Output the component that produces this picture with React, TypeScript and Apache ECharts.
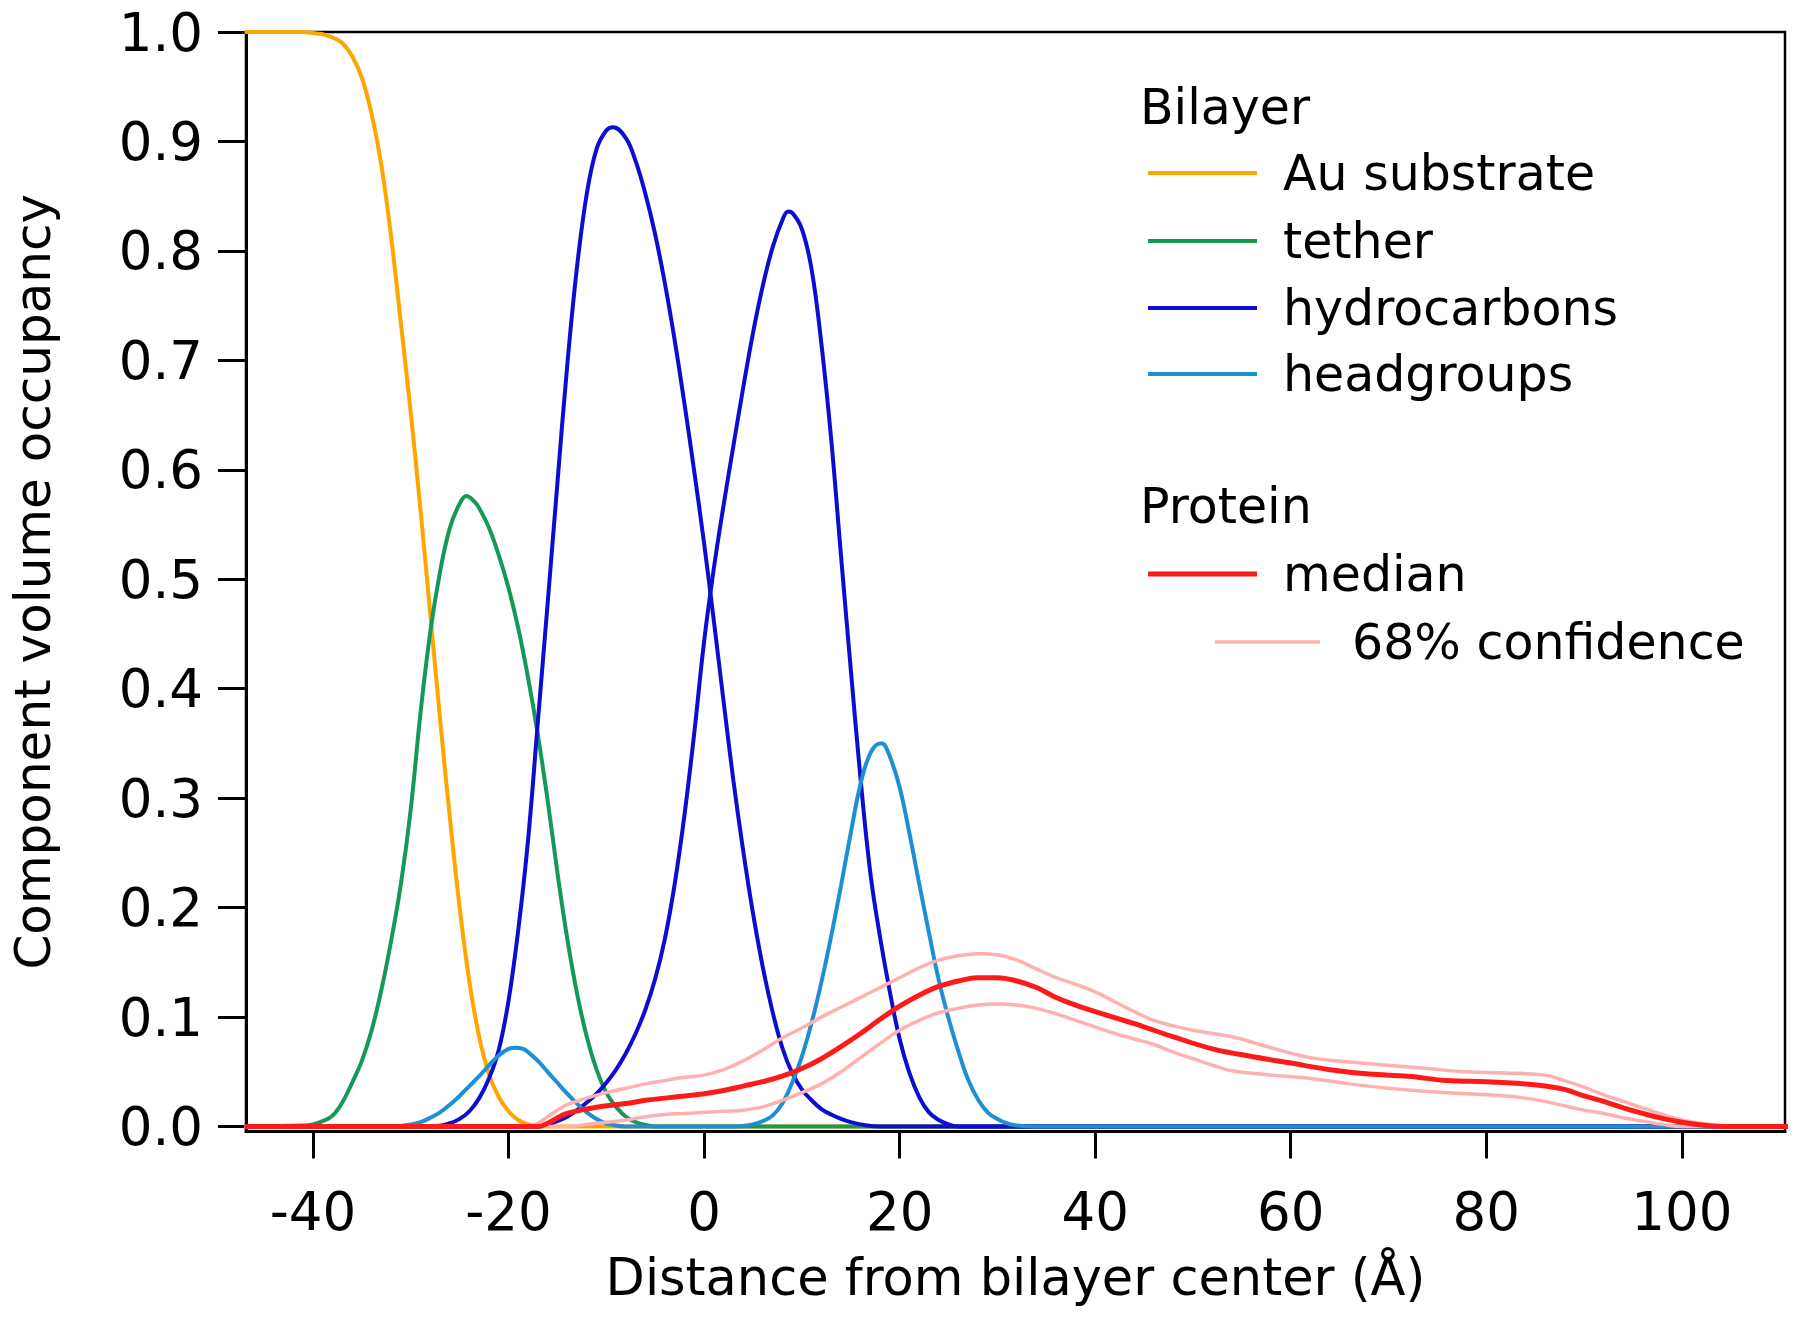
import React, { useEffect, useRef } from "react";
import * as echarts from "echarts";

// ---- axis ticks ----
const xTicks = [-40, -20, 0, 20, 40, 60, 80, 100];
const yTicks = [0, 0.1, 0.2, 0.3, 0.4, 0.5, 0.6, 0.7, 0.8, 0.9, 1.0];

// ---- Bilayer: Au substrate ----
const auX = [-47, -41, -40, -39, -38, -37, -36, -35, -34, -33, -32, -31, -30, -29, -28, -27, -26, -25, -24, -23, -22, -21, -20, -19, -18, -17, -15, 111];
const auY = [1, 1, 0.999, 0.998, 0.995, 0.99, 0.978, 0.958, 0.925, 0.878, 0.812, 0.733, 0.652, 0.563, 0.468, 0.372, 0.282, 0.2, 0.132, 0.082, 0.048, 0.027, 0.014, 0.006, 0.002, 0.0005, 0, 0];

// ---- Bilayer: tether ----
const tetherX = [-47, -41, -40, -39, -38, -37, -36, -35, -34, -33, -32, -31, -30, -29, -28, -27, -26, -25, -24.3, -23.5, -23, -22, -21, -20, -19, -18, -17, -16, -15, -14, -13, -12, -11, -10, -9, -8, -7, -6, -5, 111];
const tetherY = [0, 0.001, 0.002, 0.005, 0.01, 0.022, 0.04, 0.06, 0.088, 0.125, 0.17, 0.222, 0.29, 0.378, 0.452, 0.507, 0.547, 0.569, 0.576, 0.571, 0.565, 0.547, 0.522, 0.492, 0.455, 0.41, 0.358, 0.298, 0.232, 0.172, 0.122, 0.082, 0.052, 0.031, 0.018, 0.009, 0.004, 0.0015, 0, 0];

// ---- Bilayer: hydrocarbons (inner leaflet) ----
const hcInX = [-47, -28, -26, -25, -24, -23, -22, -21, -20, -19, -18, -17, -16, -15, -14, -13, -12, -11, -10, -9.3, -8, -7, -6, -5, -4, -3, -2, -1, 0, 1, 2, 3, 4, 5, 6, 7, 8, 9, 10, 11, 12, 13, 14, 15, 16, 18, 111];
const hcInY = [0, 0, 0.003, 0.007, 0.014, 0.026, 0.044, 0.07, 0.115, 0.18, 0.262, 0.37, 0.478, 0.588, 0.695, 0.785, 0.852, 0.893, 0.91, 0.913, 0.903, 0.882, 0.852, 0.815, 0.77, 0.718, 0.66, 0.598, 0.533, 0.462, 0.388, 0.316, 0.252, 0.195, 0.146, 0.105, 0.072, 0.049, 0.034, 0.024, 0.016, 0.011, 0.007, 0.004, 0.002, 0, 0];

// ---- Bilayer: hydrocarbons (outer leaflet) ----
const hcOutX = [-47, -17, -16, -15, -14, -13, -12, -11, -10, -9, -8, -7, -6, -5, -4, -3, -2, -1, 0, 1, 2, 3, 4, 5, 6, 7, 8, 8.6, 9, 10, 11, 12, 13, 14, 15, 16, 17, 18, 19, 20, 21, 22, 23, 24, 25, 26, 111];
const hcOutY = [0, 0, 0.002, 0.005, 0.009, 0.015, 0.022, 0.03, 0.04, 0.052, 0.067, 0.085, 0.107, 0.135, 0.172, 0.222, 0.285, 0.36, 0.443, 0.51, 0.568, 0.622, 0.675, 0.725, 0.768, 0.803, 0.828, 0.836, 0.835, 0.82, 0.783, 0.715, 0.628, 0.522, 0.418, 0.318, 0.232, 0.173, 0.123, 0.08, 0.049, 0.027, 0.013, 0.006, 0.002, 0, 0];

// ---- Bilayer: headgroups ----
const headX = [-47, -32, -30, -29, -28, -27, -26, -25, -24, -23, -22, -21, -20, -19.3, -18.5, -18, -17, -16, -15, -14, -13, -12, -11, -10, -9, -8, 3, 5, 6, 7, 8, 9, 10, 11, 12, 13, 14, 15, 16, 17, 18, 18.2, 19, 20, 21, 22, 23, 24, 25, 26, 27, 28, 29, 30, 31, 32, 34, 111];
const headY = [0, 0, 0.002, 0.004, 0.008, 0.013, 0.02, 0.028, 0.037, 0.046, 0.056, 0.065, 0.071, 0.072, 0.071, 0.068, 0.06, 0.05, 0.04, 0.03, 0.021, 0.013, 0.007, 0.003, 0.001, 0, 0, 0.002, 0.005, 0.01, 0.021, 0.04, 0.064, 0.095, 0.132, 0.174, 0.22, 0.268, 0.313, 0.341, 0.35, 0.35, 0.338, 0.31, 0.268, 0.222, 0.177, 0.134, 0.099, 0.069, 0.043, 0.025, 0.013, 0.007, 0.003, 0.001, 0, 0];

// ---- Protein: median ----
const medX = [-47, -17, -16, -15, -14, -12, -10, -8, -6, -4, -2, 0, 2, 4, 6, 8, 10, 12, 14, 16, 18, 20, 22, 24, 26, 28, 30, 32, 34, 36, 38, 40, 44, 48, 52, 56, 60, 64, 68, 72, 76, 80, 84, 86, 88, 90, 92, 94, 96, 98, 100, 102, 104, 111];
const medY = [0, 0, 0.003, 0.008, 0.012, 0.016, 0.019, 0.021, 0.024, 0.026, 0.028, 0.03, 0.033, 0.037, 0.041, 0.046, 0.053, 0.062, 0.073, 0.085, 0.098, 0.11, 0.12, 0.128, 0.133, 0.136, 0.136, 0.133, 0.127, 0.118, 0.111, 0.105, 0.094, 0.082, 0.071, 0.064, 0.058, 0.052, 0.048, 0.046, 0.042, 0.041, 0.039, 0.037, 0.034, 0.028, 0.023, 0.017, 0.012, 0.0075, 0.004, 0.0015, 0, 0];

// ---- Protein: 68% confidence, upper ----
const upX = [-47, -18, -17, -16, -15, -14, -12, -10, -8, -6, -4, -2, 0, 2, 4, 6, 8, 10, 12, 14, 16, 18, 20, 22, 24, 26, 28, 30, 32, 34, 36, 38, 40, 42, 44, 46, 48, 50, 54, 58, 62, 66, 70, 74, 78, 82, 86, 88, 90, 92, 94, 96, 98, 100, 102, 104, 106, 111];
const upY = [0, 0, 0.003, 0.009, 0.015, 0.02, 0.026, 0.031, 0.035, 0.039, 0.042, 0.045, 0.047, 0.052, 0.06, 0.07, 0.081, 0.09, 0.1, 0.109, 0.118, 0.127, 0.136, 0.145, 0.152, 0.156, 0.158, 0.157, 0.152, 0.144, 0.136, 0.13, 0.123, 0.114, 0.105, 0.097, 0.092, 0.088, 0.082, 0.072, 0.063, 0.059, 0.056, 0.053, 0.05, 0.049, 0.047, 0.042, 0.036, 0.029, 0.023, 0.017, 0.011, 0.006, 0.003, 0.001, 0, 0];

// ---- Protein: 68% confidence, lower ----
const loX = [-47, -14, -12, -10, -8, -6, -4, -2, 0, 2, 4, 6, 8, 10, 12, 14, 16, 18, 20, 22, 24, 26, 28, 30, 32, 34, 36, 38, 40, 42, 44, 46, 48, 50, 52, 54, 58, 62, 66, 70, 74, 78, 82, 84, 86, 88, 90, 92, 94, 96, 98, 100, 111];
const loY = [0, 0, 0.002, 0.004, 0.006, 0.009, 0.011, 0.012, 0.013, 0.014, 0.015, 0.018, 0.024, 0.031, 0.039, 0.05, 0.063, 0.076, 0.088, 0.097, 0.104, 0.108, 0.111, 0.112, 0.111, 0.108, 0.103, 0.097, 0.091, 0.085, 0.08, 0.075, 0.068, 0.062, 0.056, 0.051, 0.047, 0.044, 0.039, 0.035, 0.032, 0.03, 0.028, 0.026, 0.023, 0.019, 0.015, 0.012, 0.008, 0.005, 0.002, 0, 0];

const C_AU = "#FFA500";
const C_TETHER = "#159957";
const C_HC = "#0D0DD2";
const C_HEAD = "#1E90D2";
const C_MED = "#FF1A1A";
const C_CI = "#FFB0B0";

const FONT = "DejaVu Sans";

function zip(xs: number[], ys: number[]) {
  return xs.map((x, i) => [x, ys[i]]);
}

function lineSeries(name: string, xs: number[], ys: number[], color: string, width: number) {
  return {
    name,
    type: "line",
    data: zip(xs, ys),
    showSymbol: false,
    symbol: "none",
    smooth: 0.4,
    clip: true,
    lineStyle: { color, width },
    itemStyle: { color },
    emphasis: { disabled: true },
  };
}

function legendLine(x1: number, x2: number, y: number, color: string, width: number) {
  return { type: "line", shape: { x1, y1: y, x2, y2: y }, style: { stroke: color, lineWidth: width } };
}

function legendText(x: number, y: number, text: string) {
  return {
    type: "text",
    x,
    y,
    style: { text, fontSize: 49, fontFamily: FONT, fill: "#000", align: "left", verticalAlign: "middle" },
  };
}

export default function App() {
  const ref = useRef<HTMLDivElement>(null);
  useEffect(() => {
    const chart = echarts.init(ref.current!, undefined, { renderer: "svg" });
    chart.setOption({
      animation: false,
      backgroundColor: "#ffffff",
      grid: {
        left: 246,
        right: 15,
        top: 32,
        bottom: 187.5,
        show: true,
        borderColor: "#000",
        borderWidth: 2.5,
        backgroundColor: "transparent",
      },
      xAxis: {
        type: "value",
        min: -46.85,
        max: 110.55,
        name: "Distance from bilayer center (Å)",
        nameLocation: "middle",
        nameGap: 120,
        nameTextStyle: { fontSize: 51, fontFamily: FONT, color: "#000" },
        axisLine: { show: true, onZero: false, lineStyle: { color: "#000", width: 3 } },
        axisTick: { show: true, inside: false, length: 27, customValues: xTicks, lineStyle: { color: "#000", width: 3 } },
        axisLabel: { customValues: xTicks, margin: 53, fontSize: 53, fontFamily: FONT, color: "#000" },
        splitLine: { show: false },
      },
      yAxis: {
        type: "value",
        min: -0.0045,
        max: 1.0,
        name: "Component volume occupancy",
        nameLocation: "middle",
        nameRotate: 90,
        nameGap: 188,
        nameTextStyle: { fontSize: 50, fontFamily: FONT, color: "#000" },
        axisLine: { show: true, onZero: false, lineStyle: { color: "#000", width: 3 } },
        axisTick: { show: true, inside: false, length: 28, customValues: yTicks, lineStyle: { color: "#000", width: 3 } },
        axisLabel: {
          customValues: yTicks,
          margin: 43,
          fontSize: 53,
          fontFamily: FONT,
          color: "#000",
          formatter: (v: number) => v.toFixed(1),
        },
        splitLine: { show: false },
      },
      series: [
        lineSeries("Au substrate", auX, auY, C_AU, 4),
        lineSeries("tether", tetherX, tetherY, C_TETHER, 4),
        lineSeries("hydrocarbons", hcInX, hcInY, C_HC, 4),
        lineSeries("hydrocarbons", hcOutX, hcOutY, C_HC, 4),
        lineSeries("headgroups", headX, headY, C_HEAD, 4),
        lineSeries("68% confidence", upX, upY, C_CI, 3.5),
        lineSeries("68% confidence", loX, loY, C_CI, 3.5),
        lineSeries("median", medX, medY, C_MED, 5),
      ],
      graphic: [
        legendText(1140, 107, "Bilayer"),
        legendLine(1148, 1257, 173, C_AU, 4),
        legendText(1283, 173, "Au substrate"),
        legendLine(1148, 1257, 241, C_TETHER, 4),
        legendText(1283, 241, "tether"),
        legendLine(1148, 1257, 308, C_HC, 4),
        legendText(1283, 308, "hydrocarbons"),
        legendLine(1148, 1257, 374, C_HEAD, 4),
        legendText(1283, 374, "headgroups"),
        legendText(1140, 506, "Protein"),
        legendLine(1148, 1257, 574, C_MED, 5),
        legendText(1283, 574, "median"),
        legendLine(1215, 1320, 642, C_CI, 3.5),
        legendText(1352, 642, "68% confidence"),
      ],
    });
    return () => chart.dispose();
  }, []);
  return (
    <div
      ref={ref}
      style={{ position: "absolute", left: 0, top: 0, width: 1800, height: 1319, background: "#fff" }}
    />
  );
}
